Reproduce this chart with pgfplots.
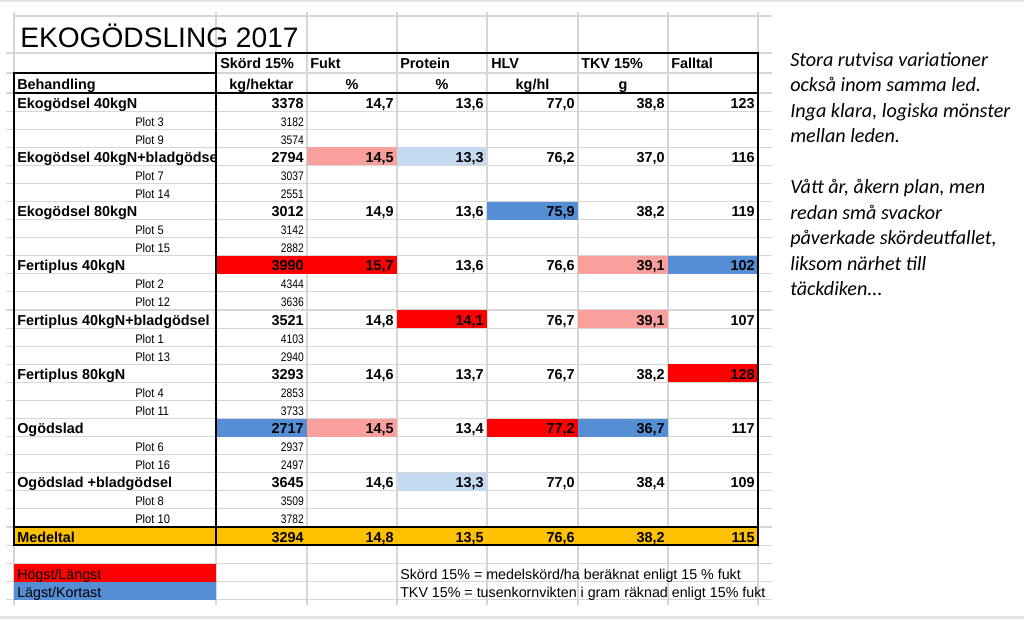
\documentclass[border=0pt]{standalone}
\usepackage{fontspec}
\setmainfont{Liberation Sans}
\newfontfamily\calib{Carlito}
\newfontfamily\narrowl[FakeStretch=0.9]{Liberation Sans}
\newfontfamily\narrowv[FakeStretch=0.83]{Liberation Sans}
\usepackage{pgfplots}
\pgfplotsset{compat=1.18}
\definecolor{myred}{HTML}{FF0000}
\definecolor{lred}{HTML}{F9A09D}
\definecolor{blu}{HTML}{558ED5}
\definecolor{lblu}{HTML}{C5D9F1}
\definecolor{gold}{HTML}{FFC000}
\definecolor{gridc}{HTML}{D6D6D6}
\newcommand\fb{\fontsize{10.8}{12}\selectfont\bfseries}
\newcommand\fr{\fontsize{10.7}{12}\selectfont}
\newcommand\fp{\narrowl\fontsize{9.3}{10}\selectfont}
\newcommand\fv{\narrowv\fontsize{9.3}{10}\selectfont}
\newcommand\fti{\fontsize{21.1}{24}\selectfont}
\newcommand\fit{\calib\itshape\fontsize{15.1}{19}\selectfont}
% value node: right x, row index, text
\newcommand\vl[3]{\node[anchor=base east,inner sep=0,font=\fb] at (axis cs:#1,{108+18.083*(#2)}) {#3};}
\newcommand\drow[7]{\vl{304}{#1}{#2}\vl{394}{#1}{#3}\vl{484}{#1}{#4}\vl{575}{#1}{#5}\vl{665}{#1}{#6}\vl{755}{#1}{#7}}
\newcommand\trt[2]{\node[anchor=base west,inner sep=0,font=\fb] at (axis cs:17,{108+18.083*(#1)}) {#2};}
\newcommand\plt[3]{\node[anchor=base west,inner sep=0,font=\fp] at (axis cs:135,{108+18.083*(#1)}) {Plot #2};
  \node[anchor=base east,inner sep=0,font=\fv] at (axis cs:304,{108+18.083*(#1)}) {#3};}
% cell fill: left x, right x, row index, colour
\newcommand\cf[4]{\fill[#4] (axis cs:#1,{93+18.083*(#3)}) rectangle (axis cs:#2,{93+18.083*(#3+1)});}
\begin{document}
\begin{tikzpicture}
\begin{axis}[width=768pt,height=464.25pt,scale only axis,
  xmin=0,xmax=1024,ymin=0,ymax=619,y dir=reverse,hide axis,clip=false]
\addplot[draw=none] coordinates {(0,0)};
\fill[white] (axis cs:0,0) rectangle (axis cs:1024,619);
\fill[gray!22] (axis cs:0,0) rectangle (axis cs:1024,2);
\fill[gray!22] (axis cs:0,616) rectangle (axis cs:1024,619);
% spreadsheet grid
\draw[gridc,line width=0.8pt] (axis cs:14,16) -- (axis cs:772,16);
\draw[gridc,line width=0.8pt] (axis cs:6,53) -- (axis cs:772,53);
\draw[gridc,line width=0.8pt] (axis cs:6,73) -- (axis cs:772,73);
\pgfplotsinvokeforeach{0,...,28}{\draw[gridc,line width=0.8pt] (axis cs:6,{93+18.083*#1}) -- (axis cs:772,{93+18.083*#1});}
\pgfplotsinvokeforeach{14,216,307,397,487,578,668,758}{\draw[gridc,line width=0.8pt] (axis cs:#1,12) -- (axis cs:#1,605);}
% coloured cells
\cf{307}{397}{3}{lred}\cf{397}{487}{3}{lblu}
\cf{487}{578}{6}{blu}
\cf{216}{397}{9}{myred}\cf{578}{668}{9}{lred}\cf{668}{758}{9}{blu}
\cf{397}{487}{12}{myred}\cf{578}{668}{12}{lred}
\cf{668}{758}{15}{myred}
\cf{216}{307}{18}{blu}\cf{307}{397}{18}{lred}\cf{487}{578}{18}{myred}\cf{578}{668}{18}{blu}
\cf{397}{487}{21}{lblu}
\cf{14}{758}{24}{gold}
\fill[myred] (axis cs:14,564) rectangle (axis cs:216,582);
\fill[blu] (axis cs:14,582) rectangle (axis cs:216,600);
% thick borders
\begin{scope}[line width=1.4pt,line cap=rect]
\draw (axis cs:216,53) -- (axis cs:758,53);
\draw (axis cs:14,73) -- (axis cs:216,73);
\draw (axis cs:14,73) -- (axis cs:14,545);
\draw (axis cs:216,53) -- (axis cs:216,545);
\draw (axis cs:758,53) -- (axis cs:758,545);
\draw (axis cs:14,93) -- (axis cs:758,93);
\draw (axis cs:14,527) -- (axis cs:758,527);
\draw (axis cs:14,545) -- (axis cs:758,545);
\end{scope}
% title
\node[anchor=base west,inner sep=0,font=\fti] at (axis cs:20,47) {EKOGÖDSLING 2017};
% headers
\node[anchor=base west,inner sep=0,font=\fb] at (axis cs:220,68) {Skörd 15\%};
\node[anchor=base west,inner sep=0,font=\fb] at (axis cs:310,68) {Fukt};
\node[anchor=base west,inner sep=0,font=\fb] at (axis cs:400,68) {Protein};
\node[anchor=base west,inner sep=0,font=\fb] at (axis cs:491,68) {HLV};
\node[anchor=base west,inner sep=0,font=\fb] at (axis cs:581,68) {TKV 15\%};
\node[anchor=base west,inner sep=0,font=\fb] at (axis cs:671,68) {Falltal};
\node[anchor=base west,inner sep=0,font=\fb] at (axis cs:17,89) {Behandling};
\node[anchor=base,inner sep=0,font=\fb] at (axis cs:261.5,89) {kg/hektar};
\node[anchor=base,inner sep=0,font=\fb] at (axis cs:352,89) {\%};
\node[anchor=base,inner sep=0,font=\fb] at (axis cs:442,89) {\%};
\node[anchor=base,inner sep=0,font=\fb] at (axis cs:532.5,89) {kg/hl};
\node[anchor=base,inner sep=0,font=\fb] at (axis cs:623,89) {g};
% data
\trt{0}{Ekogödsel 40kgN}
\drow{0}{3378}{14,7}{13,6}{77,0}{38,8}{123}
\plt{1}{3}{3182}
\plt{2}{9}{3574}
\begin{scope}
\clip (axis cs:14,{93+18.083*3}) rectangle (axis cs:215,{93+18.083*4});
\trt{3}{Ekogödsel 40kgN+bladgödsel}
\end{scope}
\drow{3}{2794}{14,5}{13,3}{76,2}{37,0}{116}
\plt{4}{7}{3037}
\plt{5}{14}{2551}
\trt{6}{Ekogödsel 80kgN}
\drow{6}{3012}{14,9}{13,6}{75,9}{38,2}{119}
\plt{7}{5}{3142}
\plt{8}{15}{2882}
\trt{9}{Fertiplus 40kgN}
\drow{9}{3990}{15,7}{13,6}{76,6}{39,1}{102}
\plt{10}{2}{4344}
\plt{11}{12}{3636}
\trt{12}{Fertiplus 40kgN+bladgödsel}
\drow{12}{3521}{14,8}{14,1}{76,7}{39,1}{107}
\plt{13}{1}{4103}
\plt{14}{13}{2940}
\trt{15}{Fertiplus 80kgN}
\drow{15}{3293}{14,6}{13,7}{76,7}{38,2}{128}
\plt{16}{4}{2853}
\plt{17}{11}{3733}
\trt{18}{Ogödslad}
\drow{18}{2717}{14,5}{13,4}{77,2}{36,7}{117}
\plt{19}{6}{2937}
\plt{20}{16}{2497}
\trt{21}{Ogödslad +bladgödsel}
\drow{21}{3645}{14,6}{13,3}{77,0}{38,4}{109}
\plt{22}{8}{3509}
\plt{23}{10}{3782}
\trt{24}{Medeltal}
\drow{24}{3294}{14,8}{13,5}{76,6}{38,2}{115}
% legend and notes
\node[anchor=base west,inner sep=0,font=\fr] at (axis cs:17,579) {Högst/Längst};
\node[anchor=base west,inner sep=0,font=\fr] at (axis cs:17,597) {Lägst/Kortast};
\node[anchor=base west,inner sep=0,font=\fr] at (axis cs:400,579) {Skörd 15\% = medelskörd/ha beräknat enligt 15 \% fukt};
\node[anchor=base west,inner sep=0,font=\fr] at (axis cs:400,597) {TKV 15\% = tusenkornvikten i gram räknad enligt 15\% fukt};
% commentary
\node[anchor=base west,inner sep=0,font=\fit] at (axis cs:790,66) {Stora rutvisa variationer};
\node[anchor=base west,inner sep=0,font=\fit] at (axis cs:790,91.5) {också inom samma led.};
\node[anchor=base west,inner sep=0,font=\fit] at (axis cs:790,117) {Inga klara, logiska mönster};
\node[anchor=base west,inner sep=0,font=\fit] at (axis cs:790,142.5) {mellan leden.};
\node[anchor=base west,inner sep=0,font=\fit] at (axis cs:790,193.5) {Vått år, åkern plan, men};
\node[anchor=base west,inner sep=0,font=\fit] at (axis cs:790,219) {redan små svackor};
\node[anchor=base west,inner sep=0,font=\fit] at (axis cs:790,244.5) {påverkade skördeutfallet,};
\node[anchor=base west,inner sep=0,font=\fit] at (axis cs:790,270) {liksom närhet till};
\node[anchor=base west,inner sep=0,font=\fit] at (axis cs:790,295.5) {täckdiken...};
\end{axis}
\end{tikzpicture}
\end{document}
